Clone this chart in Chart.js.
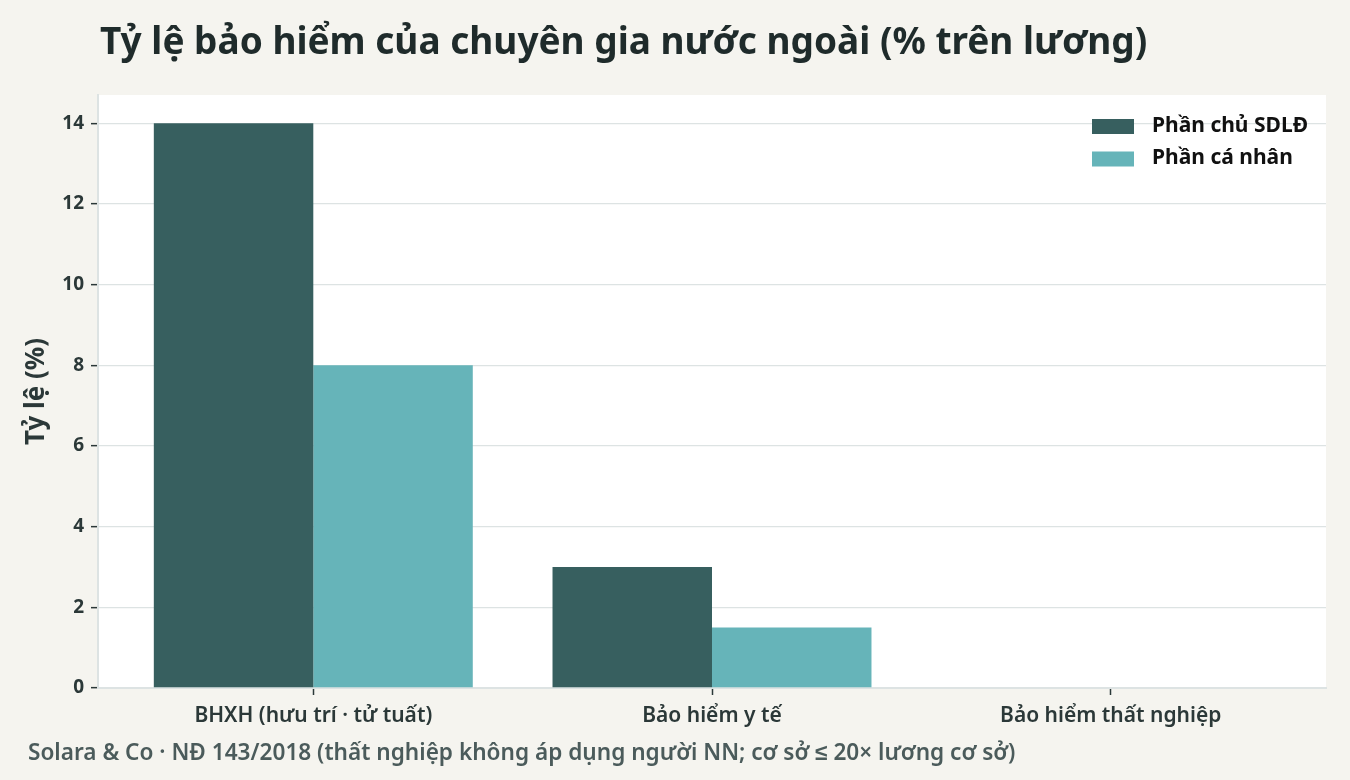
<!DOCTYPE html>
<html lang="vi">
<head>
<meta charset="utf-8">
<script src="https://cdn.jsdelivr.net/npm/chart.js@4.4.1/dist/chart.umd.min.js"></script>
<style>
  html, body { margin: 0; padding: 0; background: #f5f4ef; }
  #wrap { position: relative; width: 1350px; height: 780px; overflow: hidden; }
  #title {
    position: absolute; left: 100px; top: 14px;
    font: 700 37px "Noto Sans", sans-serif; color: #1f2b2b; white-space: nowrap;
  }
  #note {
    position: absolute; left: 28px; top: 736px;
    font: 600 22.6px "Noto Sans", sans-serif; color: #4b5b5b; white-space: nowrap;
  }
  canvas { position: absolute; left: 0; top: 0; }
</style>
</head>
<body>
<div id="wrap">
  <canvas id="myChart" width="1350" height="780"></canvas>
  <div id="title">Tỷ lệ bảo hiểm của chuyên gia nước ngoài (% trên lương)</div>
  <div id="note">Solara &amp; Co · NĐ 143/2018 (thất nghiệp không áp dụng người NN; cơ sở ≤ 20× lương cơ sở)</div>
</div>
<script>
// data
var categories = ['BHXH (hưu trí · tử tuất)', 'Bảo hiểm y tế', 'Bảo hiểm thất nghiệp'];
var employerShare = [14, 3, 0];
var employeeShare = [8, 1.5, 0];
var seriesNames = ['Phần chủ SDLĐ', 'Phần cá nhân'];
var seriesColors = ['#375f5f', '#66b4b9'];
var yTicks = [0, 2, 4, 6, 8, 10, 12, 14];

function toPoints(values) {
  return values.map(function (v, i) { return { x: i, y: v }; });
}

// white plot panel behind the bars
var panelBg = {
  id: 'panelBg',
  beforeDraw: function (chart) {
    var a = chart.chartArea, ctx = chart.ctx;
    ctx.save();
    ctx.fillStyle = '#ffffff';
    ctx.fillRect(a.left, a.top, a.right - a.left, a.bottom - a.top);
    ctx.restore();
  }
};

// legend in the top right corner of the plot
var cornerLegend = {
  id: 'cornerLegend',
  afterDraw: function (chart) {
    var a = chart.chartArea, ctx = chart.ctx;
    ctx.save();
    ctx.font = '700 21px "Noto Sans", sans-serif';
    ctx.textBaseline = 'middle';
    chart.data.datasets.forEach(function (ds, i) {
      var y = a.top + 31 + i * 32.5;
      ctx.fillStyle = ds.backgroundColor;
      ctx.fillRect(a.right - 234, y - 7, 42, 15);
      ctx.fillStyle = '#111111';
      ctx.fillText(ds.label, a.right - 174, y);
    });
    ctx.restore();
  }
};

new Chart(document.getElementById('myChart'), {
  type: 'bar',
  data: {
    datasets: [
      { label: seriesNames[0], data: toPoints(employerShare), backgroundColor: seriesColors[0] },
      { label: seriesNames[1], data: toPoints(employeeShare), backgroundColor: seriesColors[1] }
    ]
  },
  options: {
    responsive: false,
    animation: false,
    layout: { padding: { left: 0, top: 95, right: 24, bottom: 42 } },
    datasets: { bar: { categoryPercentage: 0.8, barPercentage: 1.0, borderWidth: 0 } },
    plugins: {
      legend: { display: false },
      tooltip: { enabled: false }
    },
    scales: {
      x: {
        type: 'linear',
        min: -0.54,
        max: 2.54,
        offset: false,
        afterFit: function (s) { s.height = 50; },
        afterBuildTicks: function (s) {
          s.ticks = s.ticks.filter(function (t) { return Number.isInteger(t.value); });
        },
        ticks: {
          stepSize: 1,
          autoSkip: false,
          maxRotation: 0,
          padding: 8,
          color: '#2b3838',
          font: { family: '"Noto Sans", sans-serif', size: 21, weight: '600' },
          callback: function (v) { return categories[v] || ''; }
        },
        grid: { offset: false, drawOnChartArea: false, drawTicks: true, tickLength: 7, tickColor: '#2b3838', tickWidth: 1.5 },
        border: { color: '#dde3e3', width: 2 }
      },
      y: {
        min: 0,
        max: 14.7,
        afterFit: function (s) { s.width = 98; },
        afterBuildTicks: function (s) {
          s.ticks = yTicks.map(function (v) { return { value: v }; });
        },
        ticks: { padding: 7, color: '#2b3838', font: { family: '"Noto Sans", sans-serif', size: 19, weight: '700' } },
        grid: { color: '#dde3e3', lineWidth: 1.3, tickLength: 7, tickColor: '#2b3838', tickWidth: 1.5 },
        border: { color: '#dde3e3', width: 2 },
        title: {
          display: true,
          text: 'Tỷ lệ (%)',
          color: '#2b3838',
          font: { family: '"Noto Sans", sans-serif', size: 26, weight: '700' },
          padding: { top: 21, bottom: 0 }
        }
      }
    }
  },
  plugins: [panelBg, cornerLegend]
});
</script>
</body>
</html>
